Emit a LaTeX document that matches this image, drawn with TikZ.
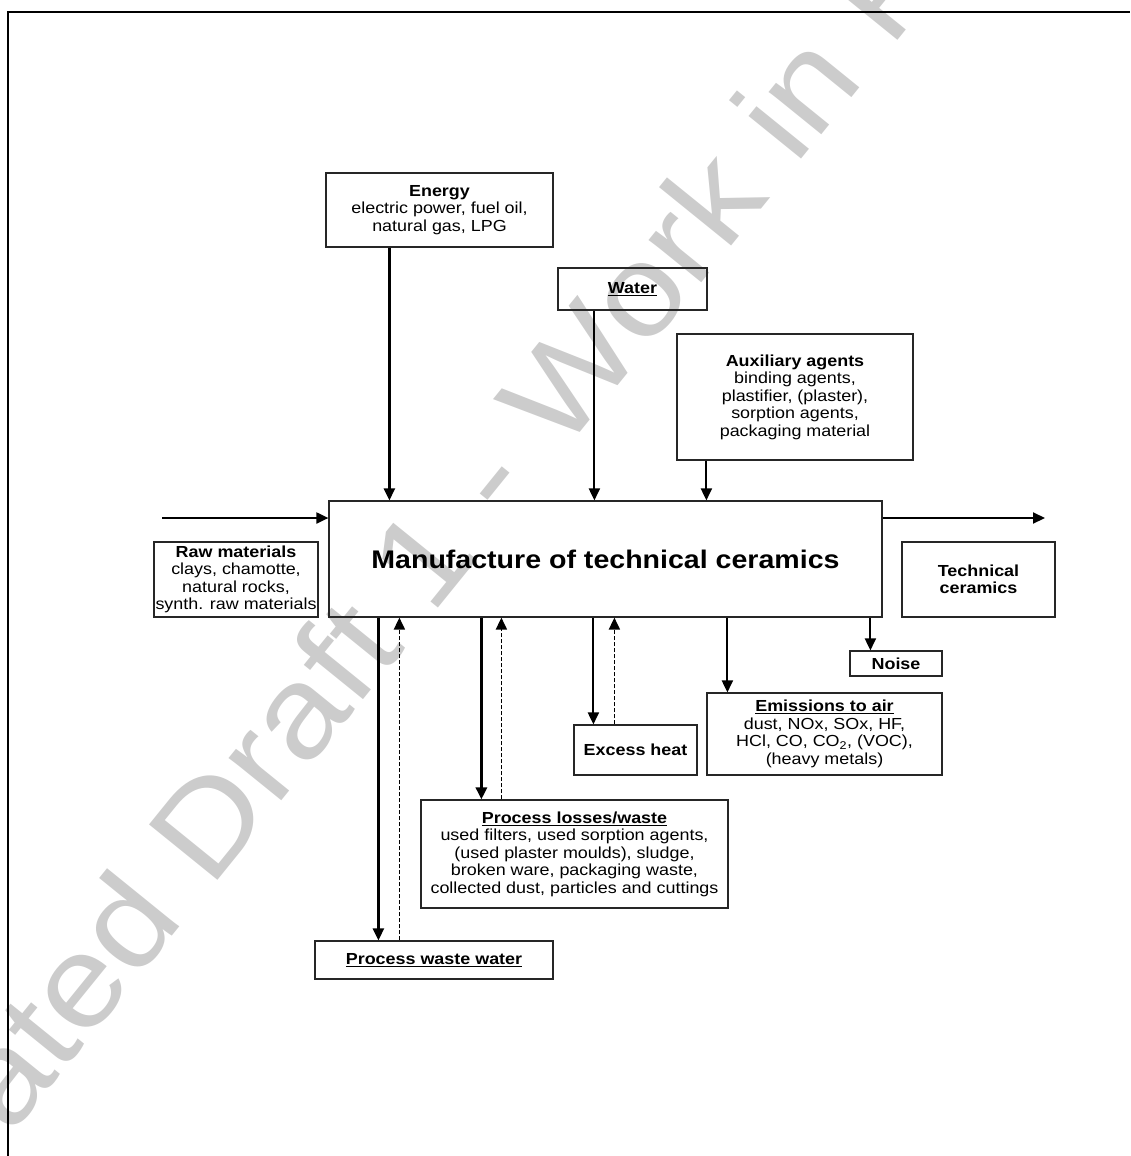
\documentclass[tikz,border=0pt]{standalone}
\usepackage{fontspec}
\setmainfont{Liberation Sans}[FakeStretch=1.12]
\usetikzlibrary{arrows.meta}
\begin{document}
\begin{tikzpicture}[x=1pt,y=-1pt,
  every node/.style={font=\fontsize{16}{17.5}\selectfont},
  box/.style={draw=black!85,line width=1.2pt,align=center,inner sep=0pt},
  flow/.style={line width=2pt,-{Triangle[length=12pt,width=11pt]}},
  back/.style={line width=1.8pt,dash pattern=on 4pt off 2pt,-{Triangle[length=12pt,width=11pt]}}]
\useasboundingbox (0,0) rectangle (1130,1156);
% watermark
\begin{scope}
\clip (0,0) rectangle (1130,1156);
\node[text=black!20,rotate=51,font=\fontsize{128}{128}\selectfont] (wm) at (445,527) {ated Draft 1 - Work in P};
\end{scope}
% frame
\draw[line width=1.6pt] (8,1156) -- (8,12) -- (1130,12);
% inputs
\node[box,minimum width=227pt,minimum height=74pt] (energy) at (439.5,210) {\textbf{Energy}\\electric power, fuel oil,\\natural gas, LPG};
\node[box,minimum width=149pt,minimum height=42pt] (water) at (632.5,289) {\underline{\textbf{Water}}};
\node[box,minimum width=236pt,minimum height=126pt] (aux) at (795,397) {\textbf{Auxiliary agents}\\binding agents,\\plastifier, (plaster),\\sorption agents,\\packaging material};
\node[box,minimum width=164pt,minimum height=75pt] (raw) at (236,579.5) {\textbf{Raw materials}\\clays, chamotte,\\natural rocks,\\synth. raw materials};
% process
\node[box,minimum width=553pt,minimum height=116pt,font=\bfseries\fontsize{25.5}{28}\selectfont] (main) at (605.5,559) {Manufacture of technical ceramics};
% outputs
\node[box,minimum width=153pt,minimum height=75pt] (tech) at (978.5,579.5) {\textbf{Technical}\\\textbf{ceramics}};
\node[box,minimum width=92pt,minimum height=25pt] (noise) at (896,663.5) {\textbf{Noise}};
\node[box,minimum width=235pt,minimum height=82pt] (emis) at (824.5,734) {\underline{\textbf{Emissions to air}}\\dust, NOx, SOx, HF,\\HCl, CO, CO\textsubscript{2}, (VOC),\\(heavy metals)};
\node[box,minimum width=123pt,minimum height=50pt] (heat) at (635.5,750) {\textbf{Excess heat}};
\node[box,minimum width=307pt,minimum height=108pt] (loss) at (574.5,854) {\underline{\textbf{Process losses/waste}}\\used filters, used sorption agents,\\(used plaster moulds), sludge,\\broken ware, packaging waste,\\collected dust, particles and cuttings};
\node[box,minimum width=238pt,minimum height=38pt] (wwater) at (434,960) {\underline{\textbf{Process waste water}}};
% connectors in
\coordinate (rawin) at (162,518);
\coordinate (prodout) at (1045,518);
\draw[flow] (rawin) -- (rawin -| main.west);
\draw[flow,line width=2.5pt] ([xshift=64pt]energy.south west) -- ([xshift=61pt]main.north west);
\draw[flow] ([xshift=37pt]water.south west) -- ([xshift=266pt]main.north west);
\draw[flow] ([xshift=30pt]aux.south west) -- ([xshift=378pt]main.north west);
% connectors out
\draw[flow] (prodout -| main.east) -- (prodout);
\draw[flow,line width=2.5pt] ([xshift=50pt]main.south west) -- ([xshift=64pt]wwater.north west);
\draw[back] ([xshift=85pt]wwater.north west) -- ([xshift=71pt]main.south west);
\draw[flow,line width=3pt] ([xshift=153pt]main.south west) -- ([xshift=61pt]loss.north west);
\draw[back] ([xshift=81pt]loss.north west) -- ([xshift=173pt]main.south west);
\draw[flow] ([xshift=265pt]main.south west) -- ([xshift=20pt]heat.north west);
\draw[back] ([xshift=41pt]heat.north west) -- ([xshift=286pt]main.south west);
\draw[flow] ([xshift=399pt]main.south west) -- ([xshift=21pt]emis.north west);
\draw[flow] ([xshift=542pt]main.south west) -- ([xshift=21pt]noise.north west);
\end{tikzpicture}
\end{document}
